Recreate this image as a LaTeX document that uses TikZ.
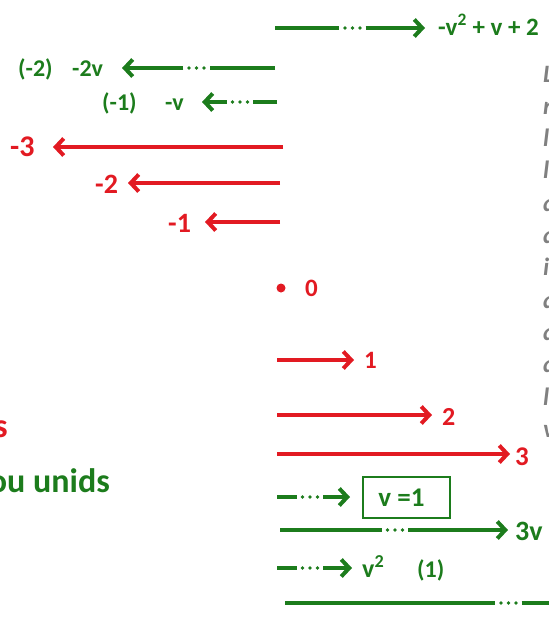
\documentclass[tikz,border=0pt]{standalone}
\usepackage{fontspec}
\setmainfont{Carlito}
\usetikzlibrary{arrows.meta}
\definecolor{gc}{RGB}{28,124,28}
\definecolor{rc}{RGB}{226,26,34}
\definecolor{grc}{RGB}{128,128,128}
\newcommand{\fsz}[1]{\fontsize{#1}{#1}\selectfont}
\begin{document}
\begin{tikzpicture}[x=1pt,y=-1pt,
  lbl/.style={inner sep=0pt, anchor=base west},
  glbl/.style={lbl, text=gc, font=\bfseries\fsz{#1}},
  rlbl/.style={lbl, text=rc, font=\bfseries\fsz{#1}},
  gylbl/.style={lbl, text=grc, font=\bfseries\itshape\fsz{25}},
  gline/.style={draw=gc, line width=4pt},
  rline/.style={draw=rc, line width=4pt},
  tipg/.style={-{Straight Barb[length=8pt,width=17pt]}},
  dotsn/.style={inner sep=0pt, minimum width=26pt, minimum height=4pt,
    path picture={\foreach \i in {-7.5,0,7.5}{\fill[gc] ([xshift=\i pt]path picture bounding box.center) circle (1.9pt);}}},
  rdot/.style={circle, fill=rc, inner sep=0pt, minimum size=9pt}
]
\useasboundingbox (0,0) rectangle (549,624);
\clip (0,0) rectangle (549,624);

% top row
\coordinate (a0) at (275,28);
\node[dotsn] (a1) at (352.5,28) {};
\coordinate (at) at (425,28);
\node[glbl=25] (a2) at (438,35) {-v\textsuperscript{2} + v + 2};
\draw[gline] (a0) -- (a1.west);
\draw[gline,tipg] (a1.east) -- (at);

% (-2) -2v row
\node[glbl=24] (b1) at (18,76) {(-2)};
\node[glbl=24] (b2) at (72,76) {-2v};
\coordinate (b0) at (275,68);
\node[dotsn] (bd) at (196.5,68) {};
\coordinate (bt) at (122,68);
\draw[gline] (b0) -- (bd.east);
\draw[gline,tipg] (bd.west) -- (bt);

% (-1) -v row
\node[glbl=24] (c1) at (102,110) {(-1)};
\node[glbl=24] (c2) at (165,110) {-v};
\coordinate (c0) at (277,102);
\node[dotsn] (cd) at (240,102) {};
\coordinate (ct) at (202,102);
\draw[gline] (c0) -- (cd.east);
\draw[gline,tipg] (cd.west) -- (ct);

% red negatives
\node[rlbl=30] (r3) at (10,156) {-3};
\coordinate (r3s) at (283,147);
\coordinate (r3t) at (53,147);
\draw[rline,tipg] (r3s) -- (r3t);

\node[rlbl=28] (r2) at (95,193) {-2};
\coordinate (r2s) at (280,183);
\coordinate (r2t) at (128,183);
\draw[rline,tipg] (r2s) -- (r2t);

\node[rlbl=28] (r1) at (168,232) {-1};
\coordinate (r1s) at (280,222);
\coordinate (r1t) at (205,222);
\draw[rline,tipg] (r1s) -- (r1t);

% zero
\node[rdot] (z) at (281,288) {};
\node[rlbl=25] (z0) at (305,296) {0};

% red positives
\coordinate (p1s) at (277,360);
\coordinate (p1t) at (354,360);
\node[rlbl=25] (p1) at (364,368) {1};
\draw[rline,tipg] (p1s) -- (p1t);

\coordinate (p2s) at (277,415);
\coordinate (p2t) at (432,415);
\node[rlbl=26] (p2) at (442,425) {2};
\draw[rline,tipg] (p2s) -- (p2t);

\coordinate (p3s) at (277,454);
\coordinate (p3t) at (510,454);
\node[rlbl=27] (p3) at (515,465) {3};
\draw[rline,tipg] (p3s) -- (p3t);

% v = 1 row
\coordinate (d0) at (277,497);
\node[dotsn] (dd) at (310,497) {};
\coordinate (dt) at (350,497);
\node[draw=gc, line width=1.3pt, minimum width=87pt, minimum height=41pt, inner sep=0pt,
  text=gc, font=\bfseries\fsz{27}] (vb) at (406.5,497.5) {v =1\kern10pt};
\draw[gline] (d0) -- (dd.west);
\draw[gline,tipg] (dd.east) -- (dt);

% 3v row
\coordinate (e0) at (280,530);
\node[dotsn] (ed) at (395,530) {};
\coordinate (et) at (508,530);
\node[glbl=28] (e1) at (515,540) {3v};
\draw[gline] (e0) -- (ed.west);
\draw[gline,tipg] (ed.east) -- (et);

% v^2 row
\coordinate (f0) at (277,568);
\node[dotsn] (fd) at (310,568) {};
\coordinate (ft) at (352,568);
\node[glbl=26] (f1) at (362,577) {v\textsuperscript{2}};
\node[glbl=24] (f2) at (417,577) {(1)};
\draw[gline] (f0) -- (fd.west);
\draw[gline,tipg] (fd.east) -- (ft);

% bottom line
\coordinate (h0) at (285,603);
\node[dotsn] (hd) at (508.5,603) {};
\coordinate (h1) at (570,603);
\draw[gline] (h0) -- (hd.west);
\draw[gline] (hd.east) -- (h1);

% left cut-off words
\node[lbl, anchor=base east, text=rc, font=\bfseries\fsz{34}] (ls) at (8,437) {s};
\node[lbl, anchor=base east, text=gc, font=\bfseries\fsz{34}] (lu) at (110,492) {ou unids};

% right cut-off gray italic text
\foreach \ch [count=\k from 0] in {L,n,l,l,a,a,i,a,a,a,l,v}
  \node[gylbl] (g\k) at (543,{82+32.3*\k}) {\ch};
\end{tikzpicture}
\end{document}
